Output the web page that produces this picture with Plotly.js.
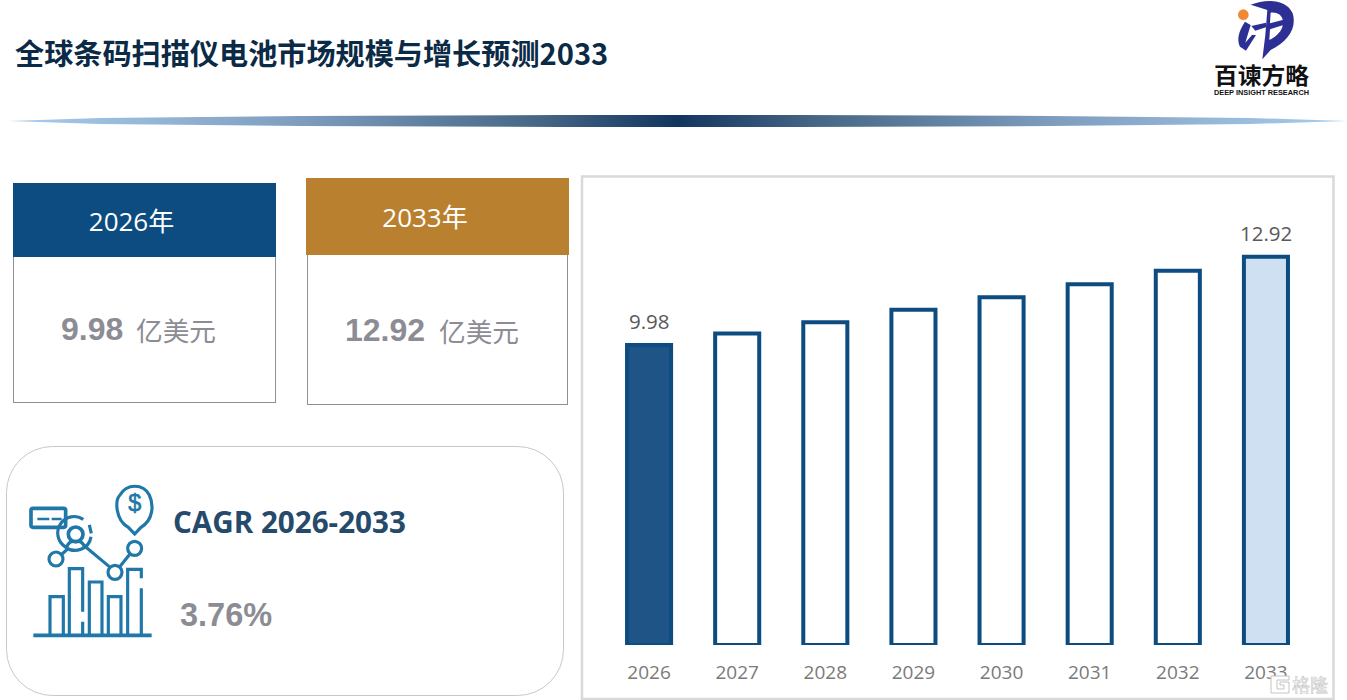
<!DOCTYPE html>
<html lang="zh">
<head>
<meta charset="utf-8">
<title>全球条码扫描仪电池市场规模与增长预测2033</title>
<script src="https://cdn.plot.ly/plotly-3.0.1.min.js"></script>
<style>
html,body{margin:0;padding:0;background:#fff;width:1347px;height:700px;overflow:hidden}
.a{position:absolute;box-sizing:border-box;white-space:nowrap}
.cjk{font-family:"Noto Sans CJK SC","Noto Sans",sans-serif}
.head{color:#fff;font-family:"Open Sans","Noto Sans CJK SC",sans-serif;font-size:26px;text-align:center}
.num{font-family:"Liberation Sans",Arial,sans-serif;font-weight:700;color:#8c8c94;font-size:32px}
.unit{font-family:"Noto Sans CJK SC",sans-serif;color:#8c8c94;font-size:26.7px}
</style>
</head>
<body>
<svg class="a" style="left:0;top:0" width="1347" height="700" viewBox="0 0 1347 700">
  <defs>
    <linearGradient id="g" gradientUnits="userSpaceOnUse" x1="8" x2="1347" y1="0" y2="0">
      <stop offset="0" stop-color="#a9cdee"/><stop offset=".22" stop-color="#7e9dbe"/>
      <stop offset=".4" stop-color="#456585"/><stop offset=".5" stop-color="#12355f"/>
      <stop offset=".6" stop-color="#456585"/><stop offset=".78" stop-color="#7e9dbe"/>
      <stop offset="1" stop-color="#a9cdee"/>
    </linearGradient>
  </defs>
  <path d="M8,121 L100,118 L300,116 L560,115 L800,115 L1050,116 L1250,118 L1347,121 L1250,124 L1050,126 L800,127 L560,127 L300,126 L100,124 Z" fill="url(#g)"/>
  <rect x="6.5" y="446.5" width="557" height="249" rx="46" fill="#fff" stroke="#c8c8c8"/>
  <rect x="582" y="176.5" width="751.5" height="522.5" fill="#fff" stroke="#d9d9d9" stroke-width="2.5"/>
  <!-- icon -->
  <g transform="translate(0,440) scale(.3333)" fill="none" stroke="#1f78a8" stroke-width="9.5">
    <path d="M100,586H455" stroke-width="11"/>
    <path d="M150,582V470H190V582M208,582V386H248V515M248,545V582M268,582V426H306V582M325,582V470H363V582M383,582V388H424V415M424,445V582"/>
    <circle cx="168" cy="357" r="21"/><circle cx="345" cy="397" r="21"/><circle cx="404" cy="325" r="21"/>
    <path d="M183,345L205,325M250,315L328,380M358,382L390,342"/>
    <circle cx="227" cy="283" r="22" stroke-width="11"/>
    <path d="M250,238A48,48 0 0 0 195,320A48,48 0 0 0 273,290M200,322Q207,300 227,305Q247,300 254,322M268,255L274,280"/>
    <rect x="93" y="205" width="104" height="57" rx="6" stroke-width="11"/>
    <path d="M112,237H148M155,237H185" stroke-width="7"/>
    <path d="M385,262C345,240 345,180 360,165C380,130 430,130 448,165C462,195 460,240 423,262L404,282Z"/>
    <text x="404" y="214" text-anchor="middle" font-family="Liberation Sans" font-size="70" fill="#1f78a8" stroke="#1f78a8" stroke-width="2">$</text>
  </g>
  <!-- logo -->
  <g transform="translate(1180,0) scale(.3333)" fill="#2e2f94">
    <circle cx="190" cy="44" r="16" fill="#f08a32"/>
    <path d="M212,14C260,-5 320,-2 338,40C352,85 322,125 272,150L247,178L256,105L262,30Z"/>
    <path d="M195,65C175,95 170,120 180,140L198,152L228,105L216,105L196,128L212,75Z"/>
    <path d="M214,78L258,68L258,82L226,92Z"/>
    <path d="M272,38C292,36 306,46 308,60L270,70Z" fill="#fff"/>
    <path d="M270,88L308,76C306,92 290,110 268,120Z" fill="#fff"/>
  </g>
  <text x="1214" y="84" class="cjk" font-size="22.5" font-weight="700" fill="#111" textLength="95" lengthAdjust="spacingAndGlyphs">百谏方略</text>
  <text x="1214" y="95" font-family="Liberation Sans" font-size="7.5" font-weight="700" fill="#111" textLength="95" lengthAdjust="spacingAndGlyphs">DEEP INSIGHT RESEARCH</text>
</svg>

<div class="a cjk" style="left:15px;top:31px;font-size:29.15px;line-height:42px;font-weight:700;color:#0b2a45">全球条码扫描仪电池市场规模与增长预测2033</div>

<div class="a" style="left:13px;top:183px;width:263px;height:220px;border:1px solid #8f8f94;background:#fff"></div>
<div class="a head" style="left:13px;top:183px;width:263px;height:74px;background:#0d4c81;line-height:76px;padding-right:26px">2026年</div>
<div class="a num" style="left:61px;top:310px;line-height:38px">9.98</div>
<div class="a unit" style="left:136px;top:310px;line-height:40px">亿美元</div>

<div class="a" style="left:307px;top:180px;width:261px;height:225px;border:1px solid #8f8f94;background:#fff"></div>
<div class="a head" style="left:306px;top:178px;width:263px;height:77px;background:#b9812f;line-height:78px;padding-right:25px">2033年</div>
<div class="a num" style="left:345px;top:311px;line-height:38px">12.92</div>
<div class="a unit" style="left:439px;top:311px;line-height:40px">亿美元</div>

<div class="a" style="left:173px;top:502px;font-family:'Open Sans',sans-serif;font-weight:700;font-size:29.6px;line-height:40px;color:#264a6b">CAGR 2026-2033</div>
<div class="a num" style="left:180px;top:596px;line-height:38px;font-size:32.5px">3.76%</div>

<div id="chart" class="a" style="left:0;top:0;width:1347px;height:700px"></div>

<div class="a cjk" style="left:1292px;top:672px;font-size:18px;line-height:24px;color:#fff;-webkit-text-stroke:.6px #c4c4c4">格隆</div>
<svg class="a" style="left:1270px;top:675px" width="21" height="19" viewBox="0 0 21 19"><path d="M1,1H19V5H7V14H14V10H10V7H19V18H1Z" fill="#fff" stroke="#c4c4c4"/></svg>

<script>
const categories = ['2026','2027','2028','2029','2030','2031','2032','2033'];
const values = [9.98,10.36,10.74,11.15,11.57,12.00,12.45,12.92];
const labelled = [0,7];
const fills = ['#1f5487','#ffffff','#ffffff','#ffffff','#ffffff','#ffffff','#ffffff','#cfe0f2'];

Plotly.newPlot('chart',[{
  type:'bar',
  x:categories,
  y:values,
  width:0.5,
  marker:{color:fills,line:{color:'#0d4c81',width:4}},
  hoverinfo:'x+y'
}],{
  width:1347,height:700,
  margin:{l:605,r:37,t:180,b:55,pad:0},
  paper_bgcolor:'rgba(0,0,0,0)',plot_bgcolor:'rgba(0,0,0,0)',
  showlegend:false,
  bargap:0.5,
  annotations:labelled.map(i=>({x:i,y:values[i],text:values[i].toFixed(2),
    showarrow:false,yanchor:'bottom',yshift:8,
    font:{family:'"Open Sans",sans-serif',size:20.5,color:'#595959'}})),
  xaxis:{type:'category',range:[-0.5,7.5],showgrid:false,zeroline:false,showline:false,
    ticks:'outside',ticklen:10,tickcolor:'rgba(0,0,0,0)',
    tickfont:{family:'"Open Sans",sans-serif',size:19,color:'#7a7a7a'}},
  yaxis:{range:[0,15.47],visible:false,showgrid:false,zeroline:false}
},{displayModeBar:false,staticPlot:true});
</script>
</body>
</html>
